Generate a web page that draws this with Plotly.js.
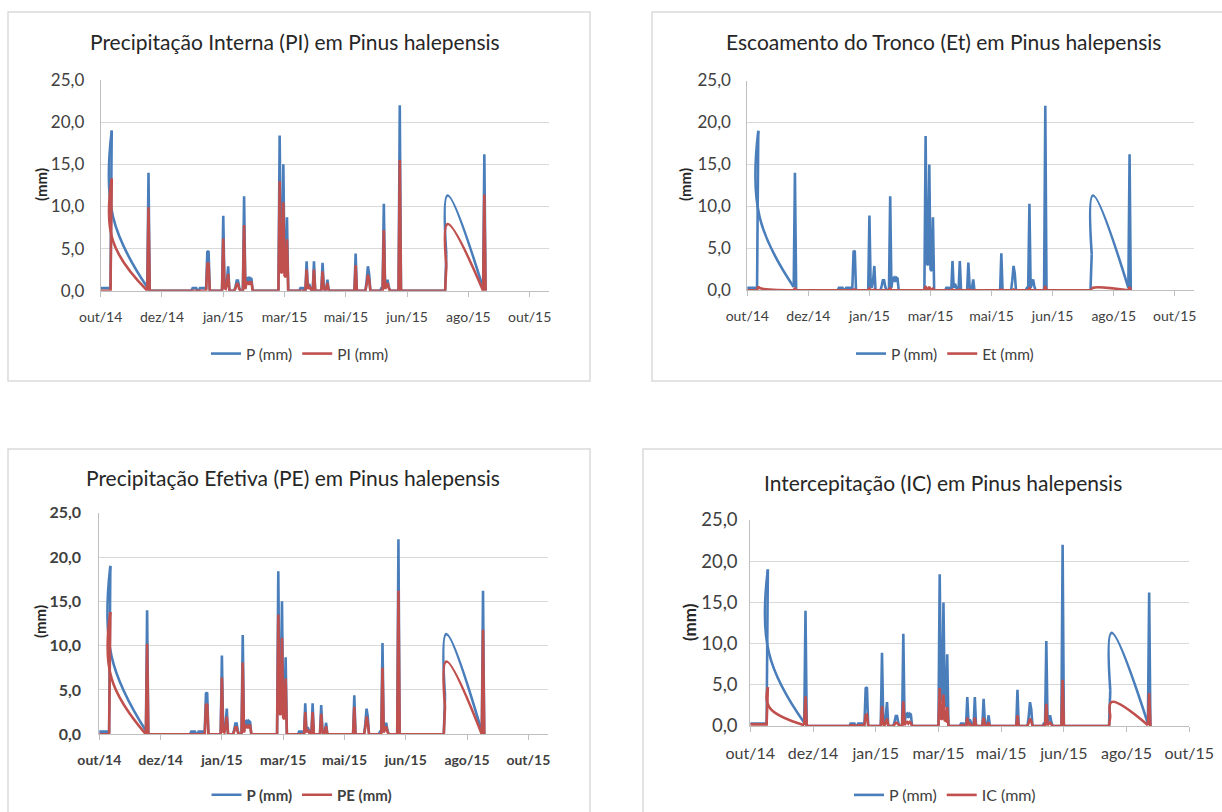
<!DOCTYPE html>
<html><head><meta charset="utf-8">
<script src="https://cdn.plot.ly/plotly-3.0.1.min.js"></script>
<style>html,body{margin:0;padding:0;background:#fff;}#chart{width:1222px;height:812px;}</style>
</head><body><div id="chart"></div>
<script>
// ---- data (daily records; days not listed were not measured or are flat) ----
const dates = [
'2014-10-17','2014-10-29','2014-10-30','2014-10-31','2014-11-01','2014-11-29','2014-11-30','2014-12-01','2014-12-02',
'2015-01-03','2015-01-04','2015-01-05','2015-01-08','2015-01-09','2015-01-10','2015-01-11','2015-01-16','2015-01-17','2015-01-18',
'2015-01-19','2015-01-20','2015-01-28','2015-01-29','2015-01-30','2015-01-31','2015-02-01','2015-02-02','2015-02-03','2015-02-04',
'2015-02-05','2015-02-08','2015-02-09','2015-02-10','2015-02-11','2015-02-12','2015-02-13','2015-02-14','2015-02-15','2015-02-16',
'2015-02-17','2015-02-18','2015-02-19','2015-02-20','2015-02-21','2015-02-22','2015-02-23','2015-02-24','2015-03-15','2015-03-16',
'2015-03-17','2015-03-18','2015-03-19','2015-03-20','2015-03-21','2015-03-22','2015-03-23','2015-03-24','2015-03-25','2015-04-02',
'2015-04-03','2015-04-05','2015-04-06','2015-04-07','2015-04-08','2015-04-09','2015-04-10','2015-04-11','2015-04-12','2015-04-13',
'2015-04-14','2015-04-15','2015-04-16','2015-04-19','2015-04-20','2015-04-21','2015-04-22','2015-04-23','2015-04-24','2015-04-25',
'2015-04-26','2015-04-27','2015-05-16','2015-05-17','2015-05-18','2015-05-19','2015-05-20','2015-05-25','2015-05-26','2015-05-27',
'2015-05-28','2015-05-29','2015-05-30','2015-05-31','2015-06-06','2015-06-07','2015-06-08','2015-06-09','2015-06-10','2015-06-11',
'2015-06-12','2015-06-13','2015-06-14','2015-06-15','2015-06-16','2015-06-21','2015-06-22','2015-06-23','2015-06-24','2015-06-25',
'2015-07-29','2015-07-30','2015-07-31','2015-08-01','2015-08-30','2015-08-31','2015-09-01'
];
// last measured day before each stretch without measurements (Excel joins these with a smoothed curve)
const gapStarts = ['2014-11-01','2015-08-01'];
const P = [
0.3,0.3,0.3,19.0,8.8,0.4,14.0,0,0,
0,0,0.3,0.3,0,0,0.3,0.3,4.6,4.7,
0,0,0,0,8.9,0.5,0.3,1.2,2.9,0,
0,0,0.5,1.2,1.2,0.4,0,0,0,11.2,
0.3,1.4,1.5,1.0,1.5,1.4,0,0,0,0,
18.4,3.2,3.0,15.0,2.5,2.3,8.7,0,0,0,
0.3,0.3,0,0,3.5,0.3,0.8,0.4,0,0,
3.5,0,0,0,0,3.3,0.5,0,0.3,1.3,
0,0,0,0,4.4,0,0,0,0,1.2,
2.9,2.0,0,0,0,0,0.3,0.3,10.3,0.3,
0.8,1.3,0.5,0,0,0,0,22.0,0,0,
0,0,4.3,11.3,0.3,16.2,0
];
const PI = [
0,0,0,13.3,5.9,0,9.9,0,0,
0,0,0,0,0,0,0,0,3.2,3.3,
0,0,0,0,6.2,0.3,0.2,0.8,2.0,0,
0,0,0.3,0.8,0.8,0.2,0,0,0,7.8,
0.2,1.0,1.0,0.7,1.0,1.0,0,0,0,0,
13.0,2.2,2.1,10.5,1.8,1.6,6.1,0,0,0,
0,0,0,0,2.5,0.2,0.5,0.3,0,0,
2.5,0,0,0,0,2.3,0.3,0,0.2,0.9,
0,0,0,0,3.0,0,0,0,0,0.8,
1.9,1.3,0,0,0,0,0,0,7.2,0.2,
0.5,0.9,0.3,0,0,0,0,15.5,0,0,
0,0,3.0,7.9,0,11.4,0
];
const Et = [
0,0,0,0.5,0.3,0,0.3,0,0,
0,0,0,0,0,0,0,0,0.1,0.1,
0,0,0,0,0.2,0,0,0,0.1,0,
0,0,0,0,0,0,0,0,0,0.3,
0,0,0,0,0,0,0,0,0,0,
0.5,0.1,0.1,0.4,0.1,0.1,0.2,0,0,0,
0,0,0,0,0.1,0,0,0,0,0,
0.1,0,0,0,0,0.1,0,0,0,0,
0,0,0,0,0.1,0,0,0,0,0,
0.1,0,0,0,0,0,0,0,0.3,0,
0,0,0,0,0,0,0,0.5,0,0,
0,0,0.1,0.3,0,0.4,0
];
const PE = [
0,0,0,13.8,6.3,0,10.2,0,0,
0,0,0,0,0,0,0,0,3.3,3.4,
0,0,0,0,6.4,0.3,0.2,0.8,2.0,0,
0,0,0.3,0.8,0.8,0.2,0,0,0,8.1,
0.2,1.0,1.0,0.7,1.0,1.0,0,0,0,0,
13.5,2.3,2.2,10.9,1.9,1.7,6.3,0,0,0,
0,0,0,0,2.5,0.2,0.5,0.3,0,0,
2.5,0,0,0,0,2.3,0.3,0,0.2,0.9,
0,0,0,0,3.1,0,0,0,0,0.8,
2.0,1.3,0,0,0,0,0,0,7.5,0.2,
0.5,0.9,0.3,0,0,0,0,16.2,0,0,
0,0,3.1,8.2,0,11.8,0
];
const IC = [
0.2,0.2,0.2,4.7,2.3,0.1,3.6,0,0,
0,0,0.1,0.1,0,0,0.1,0.1,1.3,1.4,
0,0,0,0,2.4,0.2,0.1,0.4,0.9,0,
0,0,0.2,0.4,0.4,0.2,0,0,0,3.0,
0.1,0.4,0.5,0.3,0.5,0.4,0,0,0,0,
4.6,0.9,0.8,3.8,0.7,0.6,2.3,0,0,0,
0.1,0.1,0,0,1.0,0.1,0.3,0.1,0,0,
1.0,0,0,0,0,1.0,0.2,0,0.1,0.4,
0,0,0,0,1.3,0,0,0,0,0.4,
0.9,0.6,0,0,0,0,0.1,0.1,2.7,0.1,
0.3,0.4,0.2,0,0,0,0,5.6,0,0,
0,0,1.2,2.9,0.1,4.0,0
];
const xTickLabels = ['out/14','dez/14','jan/15','mar/15','mai/15','jun/15','ago/15','out/15'];
const xTicksMain = ['2014-10-22','2014-12-11','2015-01-30','2015-03-21','2015-05-10','2015-06-29','2015-08-18','2015-10-07'];
const xTicksIC = ['2014-10-17','2014-12-06','2015-01-25','2015-03-16','2015-05-05','2015-06-24','2015-08-13','2015-10-02'];
const yTickVals = [0,5,10,15,20,25];
const yTickLabels = ['0,0','5,0','10,0','15,0','20,0','25,0'];
const titles = ['Precipitação Interna (PI) em Pinus halepensis','Escoamento do Tronco (Et) em Pinus halepensis',
                'Precipitação Efetiva (PE) em Pinus halepensis','Intercepitação (IC) em Pinus halepensis'];
const seriesNames = ['PI (mm)','Et (mm)','PE (mm)','IC (mm)'];

// ---- layout helpers ----
const W = 1222, H = 812;
const FONT = 'Lato, "Open Sans", sans-serif';
const BLUE = '#4a7ebb', RED = '#c0504d';
const px = v => v / W, py = v => 1 - v / H;
const gapIdx = gapStarts.map(d => dates.indexOf(d));

const panels = [
  {xd:[100.7,549.3], yd:[80,290.7], ticks:xTicksMain, range:['2014-10-22','2015-10-23'], bold:false, second:PI,
   xf:14, yf:17, ys:12, lf:15.5, mf:15, title:[295,42], ytitle:[41,185], legend:[300,354], box:[8,12,590,381]},
  {xd:[747.3,1194.3], yd:[80.5,290.3], ticks:xTicksMain, range:['2014-10-22','2015-10-23'], bold:false, second:Et,
   xf:14, yf:17, ys:12, lf:15.5, mf:15, title:[943,42], ytitle:[685,185], legend:[945,354], box:[652,12,1230,381]},
  {xd:[99.3,548], yd:[512.7,734.3], ticks:xTicksMain, range:['2014-10-22','2015-10-23'], bold:true, second:PE,
   xf:14, yf:16, ys:14, lf:15, mf:15, title:[293,477], ytitle:[40,622], legend:[302,795], box:[8,449,590,830]},
  {xd:[750.3,1189.3], yd:[520,726], ticks:xTicksIC, range:['2014-10-17','2015-10-02'], bold:false, second:IC,
   xf:16, yf:18.5, ys:8, lf:16, mf:17, title:[943,482], ytitle:[689,622], legend:[945,795], box:[643,449,1230,830]}
];

const data = [], layout = {
  width:W, height:H, margin:{l:0,r:0,t:0,b:0}, paper_bgcolor:'#fff', plot_bgcolor:'#fff',
  font:{family:FONT, color:'#404040'}, annotations:[], shapes:[], showlegend:true
};

// a series: straight daily segments, plus a smoothed curve across each measurement gap
function addSeries(yvals, name, color, xa, ya, lg) {
  const lx = [], ly = [];
  dates.forEach((d, k) => {
    if (gapIdx.includes(k)) { lx.push(null); ly.push(null); }
    else { lx.push(d); ly.push(yvals[k]); }
  });
  data.push({x:lx, y:ly, type:'scatter', mode:'lines', name:name, xaxis:xa, yaxis:ya, legend:lg,
             legendgroup:lg + name, connectgaps:false, line:{color:color, width:2.6, simplify:false}});
  gapIdx.forEach(g => {
    const idx = [g - 1, g, g + 1];
    data.push({x:idx.map(k => dates[k]), y:idx.map(k => yvals[k]), type:'scatter', mode:'lines',
               name:name, xaxis:xa, yaxis:ya, legend:lg, legendgroup:lg + name, showlegend:false,
               line:{color:color, width:2.6, shape:'spline', smoothing:1.2, simplify:false}});
  });
}

panels.forEach((p, i) => {
  const n = i === 0 ? '' : String(i + 1);
  const xa = 'x' + n, ya = 'y' + n, lg = 'legend' + n;
  const weight = p.bold ? 'bold' : 'normal';
  addSeries(P, 'P (mm)', BLUE, xa, ya, lg);
  addSeries(p.second, seriesNames[i], RED, xa, ya, lg);
  layout['xaxis' + n] = {
    domain:[px(p.xd[0]), px(p.xd[1])], anchor:ya, type:'date', range:p.range,
    tickvals:p.ticks, ticktext:xTickLabels, showgrid:false, zeroline:false,
    showline:true, linecolor:'#bfbfbf', linewidth:1, ticks:'outside', ticklen:5, tickcolor:'#bfbfbf',
    ticklabelstandoff:8, tickfont:{family:FONT, size:p.xf, color:'#404040', weight:weight}, fixedrange:true
  };
  layout['yaxis' + n] = {
    domain:[py(p.yd[1]), py(p.yd[0])], anchor:xa, range:[0,25],
    tickvals:yTickVals, ticktext:yTickLabels, showgrid:true, gridcolor:'#d9d9d9', gridwidth:1,
    zeroline:false, showline:true, linecolor:'#bfbfbf', linewidth:1, ticks:'',
    ticklabelstandoff:p.ys, tickfont:{family:FONT, size:p.yf, color:'#404040', weight:weight}, fixedrange:true
  };
  layout[lg] = {
    orientation:'h', x:px(p.legend[0]), y:py(p.legend[1]), xanchor:'center', yanchor:'middle',
    font:{family:FONT, size:p.lf, color:'#404040', weight:weight}, bgcolor:'rgba(0,0,0,0)', itemwidth:30
  };
  layout.annotations.push({
    text:titles[i], xref:'paper', yref:'paper', x:px(p.title[0]), y:py(p.title[1]),
    xanchor:'center', yanchor:'middle', showarrow:false, font:{family:FONT, size:21, color:'#262626'}
  });
  layout.annotations.push({
    text:'(mm)', xref:'paper', yref:'paper', x:px(p.ytitle[0]), y:py(p.ytitle[1]), textangle:-90,
    xanchor:'center', yanchor:'middle', showarrow:false, font:{family:FONT, size:p.mf, color:'#262626', weight:'bold'}
  });
  layout.shapes.push({
    type:'rect', xref:'paper', yref:'paper', layer:'below',
    x0:px(p.box[0]), x1:px(p.box[2]), y0:py(p.box[3]), y1:py(p.box[1]),
    line:{color:'#dadada', width:1.5}, fillcolor:'rgba(0,0,0,0)'
  });
});

Plotly.newPlot('chart', data, layout, {displayModeBar:false, staticPlot:true});
</script>
</body></html>
